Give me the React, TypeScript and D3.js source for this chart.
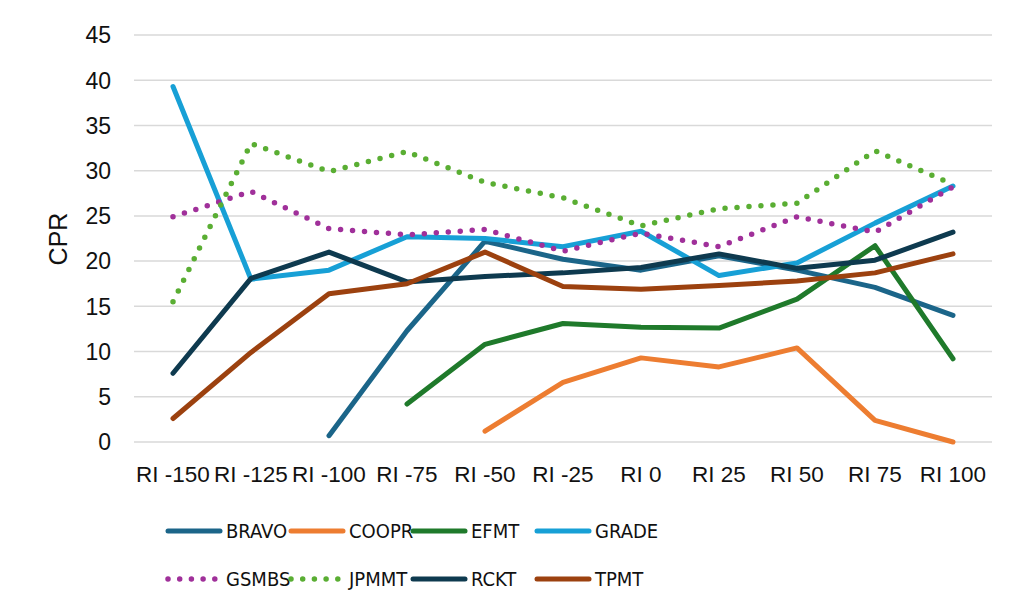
import React from 'react';
import * as d3 from 'd3';

const categories = ['RI -150', 'RI -125', 'RI -100', 'RI -75', 'RI -50', 'RI -25', 'RI 0', 'RI 25', 'RI 50', 'RI 75', 'RI 100'];
const yTicks = [0, 5, 10, 15, 20, 25, 30, 35, 40, 45];

const bravo = [null, null, 0.7, 12.3, 22.2, 20.2, 19.0, 20.6, 19.0, 17.1, 14.0];
const coopr = [null, null, null, null, 1.2, 6.6, 9.3, 8.3, 10.4, 2.4, 0.0];
const efmt = [null, null, null, 4.2, 10.8, 13.1, 12.7, 12.6, 15.8, 21.7, 9.2];
const grade = [39.3, 18.0, 19.0, 22.7, 22.5, 21.6, 23.3, 18.4, 19.8, 24.2, 28.3];
const gsmbs = [24.9, 27.7, 23.6, 22.9, 23.5, 21.1, 23.1, 21.6, 24.9, 23.2, 28.2];
const jpmmt = [15.5, 33.0, 29.9, 32.1, 28.7, 27.0, 23.9, 25.8, 26.4, 32.2, 28.5];
const rckt = [7.6, 18.1, 21.0, 17.7, 18.3, 18.7, 19.3, 20.8, 19.2, 20.1, 23.2];
const tpmt = [2.6, 9.9, 16.4, 17.5, 21.0, 17.2, 16.9, 17.3, 17.8, 18.7, 20.8];

type Series = { name: string; values: (number | null)[]; color: string; dotted?: boolean };

const series: Series[] = [
  { name: 'BRAVO', values: bravo, color: '#1b6589' },
  { name: 'COOPR', values: coopr, color: '#ed7d31' },
  { name: 'EFMT', values: efmt, color: '#1f7a2b' },
  { name: 'GRADE', values: grade, color: '#17a0d6' },
  { name: 'GSMBS', values: gsmbs, color: '#a0309a', dotted: true },
  { name: 'JPMMT', values: jpmmt, color: '#5aae33', dotted: true },
  { name: 'RCKT', values: rckt, color: '#0e3a4f' },
  { name: 'TPMT', values: tpmt, color: '#9c410f' },
];

const W = 1024;
const H = 613;
const font = '"Liberation Sans", Arial, sans-serif';
const narrow = '"Liberation Sans Narrow", "DejaVu Sans Condensed", "Liberation Sans", sans-serif';

export default function App() {
  const x = d3.scaleBand<string>().domain(categories).range([134, 992]);
  const y = d3.scaleLinear().domain([0, 45]).range([442, 35]);
  const cx = (c: string) => (x(c) as number) + x.bandwidth() / 2;

  const line = d3
    .line<number | null>()
    .defined((d) => d !== null)
    .x((_, i) => cx(categories[i]))
    .y((d) => y(d as number));

  const legendCols = [168, 291, 413, 537];
  const legendRows = [531, 579];

  return (
    <svg width={W} height={H} style={{ position: 'absolute', left: 0, top: 0, background: '#fff' }} fontFamily={font}>
      {yTicks.map((t) => (
        <g key={t}>
          <line x1={134} x2={992} y1={y(t)} y2={y(t)} stroke="#d9d9d9" strokeWidth={1.5} />
          <text x={111} y={y(t)} dy="0.36em" textAnchor="end" fontSize={23} fill="#111">
            {t}
          </text>
        </g>
      ))}
      {categories.map((c) => (
        <text key={c} x={cx(c)} y={482} textAnchor="middle" fontSize={22.5} fill="#111">
          {c}
        </text>
      ))}
      <text transform="translate(67,239) rotate(-90)" textAnchor="middle" fontSize={25} fill="#111">
        CPR
      </text>
      {series.map((s) => (
        <path
          key={s.name}
          d={line(s.values) || ''}
          fill="none"
          stroke={s.color}
          strokeWidth={s.dotted ? 5.5 : 5}
          strokeLinecap="round"
          strokeLinejoin="round"
          strokeDasharray={s.dotted ? '0 12' : undefined}
        />
      ))}
      {series.map((s, i) => {
        const lx = legendCols[i % 4];
        const ly = legendRows[Math.floor(i / 4)];
        return (
          <g key={s.name}>
            <line
              x1={lx}
              x2={s.dotted ? lx + 47 : lx + 52}
              y1={ly}
              y2={ly}
              stroke={s.color}
              strokeWidth={s.dotted ? 5.5 : 5}
              strokeLinecap="round"
              strokeDasharray={s.dotted ? '0 11.7' : undefined}
            />
            <text x={lx + 58} y={ly} dy="0.36em" fontSize={20} fontFamily={narrow} fill="#111">
              {s.name}
            </text>
          </g>
        );
      })}
    </svg>
  );
}
